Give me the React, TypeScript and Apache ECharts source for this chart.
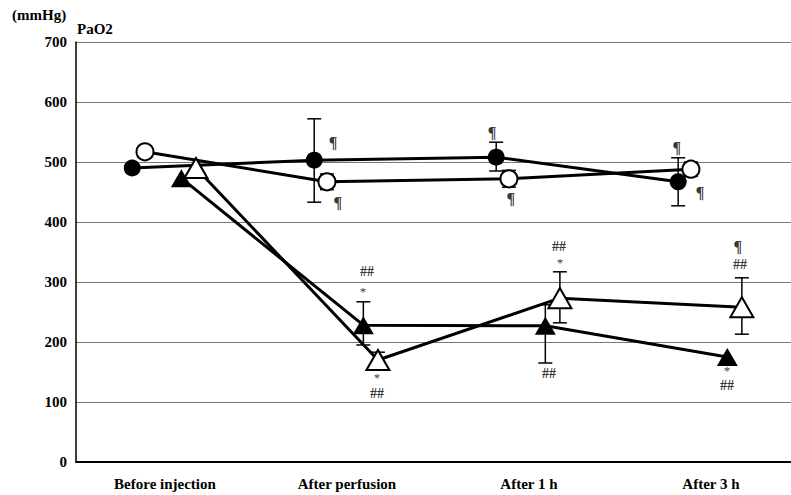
import React, { useEffect, useRef } from "react";
import * as echarts from "echarts";

const categories = ["Before injection", "After perfusion", "After 1 h", "After 3 h"];

// mean values (mmHg)
const filledCircle = [490, 503, 508, 467];
const openCircle = [517, 467, 472, 488];
const filledTriangle = [473, 228, 227, 175];
const openTriangle = [490, 170, 273, 258];

// error bars [categoryIndex, low, high]
const filledCircleErr = [[1, 433, 572], [2, 485, 533], [3, 427, 507]];
const openCircleErr = [[1, 454, 480], [2, 458, 486], [3, 476, 500]];
const filledTriangleErr = [[1, 195, 267], [2, 165, 262]];
const openTriangleErr = [[1, 157, 183], [2, 232, 317], [3, 213, 307]];

// significance marks [x (category units), y (mmHg), text]
const marks: [number, number, string][] = [
  [0.923, 532, "¶"], [0.95, 432, "¶"], [1.11, 318, "##"], [1.088, 285, "*"],
  [1.165, 141, "*"], [1.165, 115, "##"],
  [1.797, 550, "¶"], [1.9, 440, "¶"], [2.165, 360, "##"], [2.17, 333, "*"], [2.11, 148, "##"],
  [2.813, 525, "¶"], [2.94, 450, "¶"], [3.148, 359, "¶"], [3.16, 330, "##"],
  [3.088, 153, "*"], [3.088, 127, "##"],
];

const yMin = 0;
const yMax = 700;
const yStep = 100;

const OFF = { fc: -0.18, oc: -0.11, ft: 0.09, ot: 0.17 };

const FONT = "'Liberation Serif', 'DejaVu Serif', serif";
const MARK_SIZE: Record<string, number> = { "¶": 16, "##": 14, "*": 13 };

export default function App() {
  const ref = useRef<HTMLDivElement>(null);
  useEffect(() => {
    if (!ref.current) return;
    const chart = echarts.init(ref.current, undefined, { renderer: "svg" });
    const pts = (vals: number[], off: number) => vals.map((v, i) => [i + off, v]);
    const errs = (e: number[][], off: number) => e.map((d) => [d[0] + off, d[1], d[2]]);

    const lineSeries = (name: string, vals: number[], off: number, symbol: string, size: any, fill: string) => ({
      type: "line",
      name,
      data: pts(vals, off),
      symbol,
      symbolSize: size,
      showSymbol: true,
      z: 5,
      lineStyle: { color: "#000", width: 3 },
      itemStyle: { color: fill, borderColor: "#000", borderWidth: fill === "#000" ? 0 : 2, opacity: 1 },
      emphasis: { disabled: true },
    });

    const errSeries = (e: number[][], off: number) => ({
      type: "custom",
      data: errs(e, off),
      z: 3,
      encode: { x: 0, y: [1, 2] },
      renderItem: (params: any, api: any) => {
        const x = api.value(0);
        const lo = api.coord([x, api.value(1)]);
        const hi = api.coord([x, api.value(2)]);
        const w = 7;
        const style = { stroke: "#000", lineWidth: 1.5 };
        return {
          type: "group",
          children: [
            { type: "line", shape: { x1: lo[0], y1: lo[1], x2: hi[0], y2: hi[1] }, style },
            { type: "line", shape: { x1: lo[0] - w, y1: lo[1], x2: lo[0] + w, y2: lo[1] }, style },
            { type: "line", shape: { x1: hi[0] - w, y1: hi[1], x2: hi[0] + w, y2: hi[1] }, style },
          ],
        };
      },
    });

    chart.setOption({
      animation: false,
      grid: { left: 76, right: 0, top: 42, bottom: 33 },
      xAxis: {
        type: "value",
        min: -0.489,
        max: 3.44,
        splitLine: { show: false },
        axisTick: { show: false },
        axisLine: { show: true, onZero: false, lineStyle: { color: "#000", width: 2 } },
        axisLabel: {
          customValues: [0, 1, 2, 3],
          formatter: (v: number) => categories[Math.round(v)] ?? "",
          color: "#000",
          fontFamily: FONT,
          fontWeight: "bold",
          fontSize: 15,
          margin: 14,
        },
      },
      yAxis: {
        type: "value",
        min: yMin,
        max: yMax,
        interval: yStep,
        axisLine: { show: true, onZero: false, lineStyle: { color: "#000", width: 1.5 } },
        axisTick: { show: false },
        splitLine: { show: true, lineStyle: { color: "#777", width: 1 } },
        axisLabel: {
          color: "#000",
          fontFamily: FONT,
          fontWeight: "bold",
          fontSize: 15,
          margin: 9,
        },
      },
      graphic: [
        { type: "text", left: 12, top: 7, style: { text: "(mmHg)", font: `bold 15px ${FONT}`, fill: "#000" } },
        { type: "text", left: 77, top: 21, style: { text: "PaO2", font: `bold 15px ${FONT}`, fill: "#000" } },
      ],
      series: [
        errSeries(filledCircleErr, OFF.fc),
        errSeries(openCircleErr, OFF.oc),
        errSeries(filledTriangleErr, OFF.ft),
        errSeries(openTriangleErr, OFF.ot),
        lineSeries("filledCircle", filledCircle, OFF.fc, "circle", 17, "#000"),
        lineSeries("openCircle", openCircle, OFF.oc, "circle", 17, "#fff"),
        lineSeries("filledTriangle", filledTriangle, OFF.ft, "triangle", [21, 18], "#000"),
        lineSeries("openTriangle", openTriangle, OFF.ot, "triangle", [23, 20], "#fff"),
        {
          type: "scatter",
          data: marks.map((m) => ({
            value: [m[0], m[1]],
            name: m[2],
            label: { fontSize: MARK_SIZE[m[2]] ?? 14, fontWeight: m[2] === "*" ? "normal" : "bold" },
          })),
          symbolSize: 1,
          itemStyle: { color: "rgba(0,0,0,0)" },
          z: 6,
          label: {
            show: true,
            position: "inside",
            formatter: (p: any) => p.name,
            color: "#000",
            fontFamily: FONT,
            fontWeight: "bold",
            fontSize: 14,
          },
          emphasis: { disabled: true },
        },
      ],
    });
    return () => chart.dispose();
  }, []);
  return (
    <div
      ref={ref}
      style={{ position: "fixed", left: 0, top: 0, width: 791, height: 495, background: "#fff" }}
    />
  );
}
